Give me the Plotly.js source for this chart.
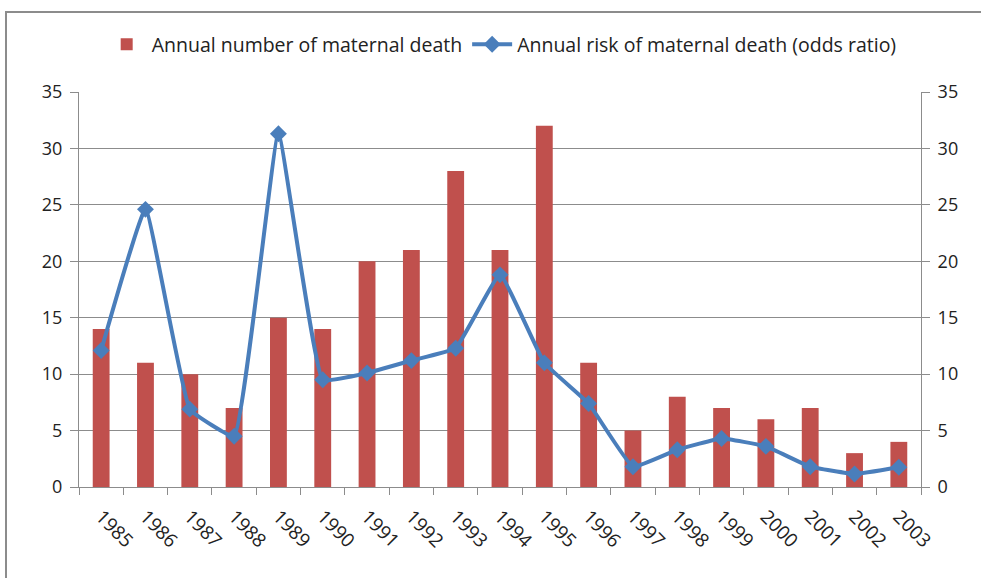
<!DOCTYPE html>
<html>
<head>
<meta charset="utf-8">
<script src="https://cdn.plot.ly/plotly-3.0.1.min.js"></script>
<style>
html,body{margin:0;padding:0;background:#fff;overflow:hidden;}
#frame{position:absolute;left:5px;top:11px;width:1000px;height:620px;border:2px solid #8c8c8c;box-sizing:border-box;}
#chart{position:absolute;left:0;top:0;width:981px;height:578px;}
</style>
</head>
<body>
<div id="frame"></div>
<div id="chart"></div>
<script>
var years = ["1985","1986","1987","1988","1989","1990","1991","1992","1993","1994","1995","1996","1997","1998","1999","2000","2001","2002","2003"];
var deaths = [14, 11, 10, 7, 15, 14, 20, 21, 28, 21, 32, 11, 5, 8, 7, 6, 7, 3, 4];
var oddsRatio = [12.1, 24.6, 6.9, 4.5, 31.3, 9.5, 10.1, 11.2, 12.3, 18.8, 11.0, 7.4, 1.8, 3.3, 4.3, 3.6, 1.8, 1.15, 1.75];
var yTicks = [0, 5, 10, 15, 20, 25, 30, 35];

var fontFam = "'Open Sans', 'Noto Sans', sans-serif";

var traces = [
  {
    type: 'bar', x: years, y: deaths, name: 'Annual number of maternal death',
    marker: {color: '#c0504d'}, width: 0.38, yaxis: 'y'
  },
  {
    type: 'scatter', mode: 'lines+markers', x: years, y: oddsRatio, yaxis: 'y2',
    name: 'Annual risk of maternal death (odds ratio)',
    line: {color: '#4a7ebb', width: 4, shape: 'spline', smoothing: 0.3},
    marker: {symbol: 'diamond', size: 13, color: '#4a7ebb'}
  }
];

var layout = {
  width: 981, height: 578,
  margin: {l: 79, r: 60, t: 92, b: 91},
  paper_bgcolor: 'rgba(0,0,0,0)', plot_bgcolor: 'rgba(0,0,0,0)',
  font: {family: fontFam, size: 18, color: '#222'},
  showlegend: true,
  legend: {orientation: 'h', x: 0.502, xanchor: 'center', y: 1.12, yanchor: 'middle',
           font: {size: 19.5, color: '#222'}, traceorder: 'normal', itemwidth: 40},
  xaxis: {
    type: 'category', range: [-0.5, 18.5], tickangle: 45, showgrid: false, showline: true,
    linecolor: '#8c8c8c', linewidth: 1, ticks: 'outside', ticklen: 7, tickcolor: '#8c8c8c',
    tickson: 'boundaries', tickfont: {size: 19, color: '#222'}, ticklabelstandoff: 10
  },
  yaxis: {
    range: [0, 35], tickvals: yTicks, showgrid: true, gridcolor: '#8c8c8c', gridwidth: 1,
    showline: true, linecolor: '#8c8c8c', ticks: 'outside', ticklen: 8, tickcolor: '#8c8c8c',
    zeroline: false, tickfont: {size: 18, color: '#222'}, ticklabelstandoff: 4
  },
  yaxis2: {
    range: [0, 35], tickvals: yTicks, overlaying: 'y', side: 'right', showgrid: false,
    showline: true, linecolor: '#8c8c8c', ticks: 'outside', ticklen: 8, tickcolor: '#8c8c8c',
    zeroline: false, tickfont: {size: 18, color: '#222'}, ticklabelstandoff: 4
  }
};

Plotly.newPlot('chart', traces, layout, {displayModeBar: false, staticPlot: true});
</script>
</body>
</html>
